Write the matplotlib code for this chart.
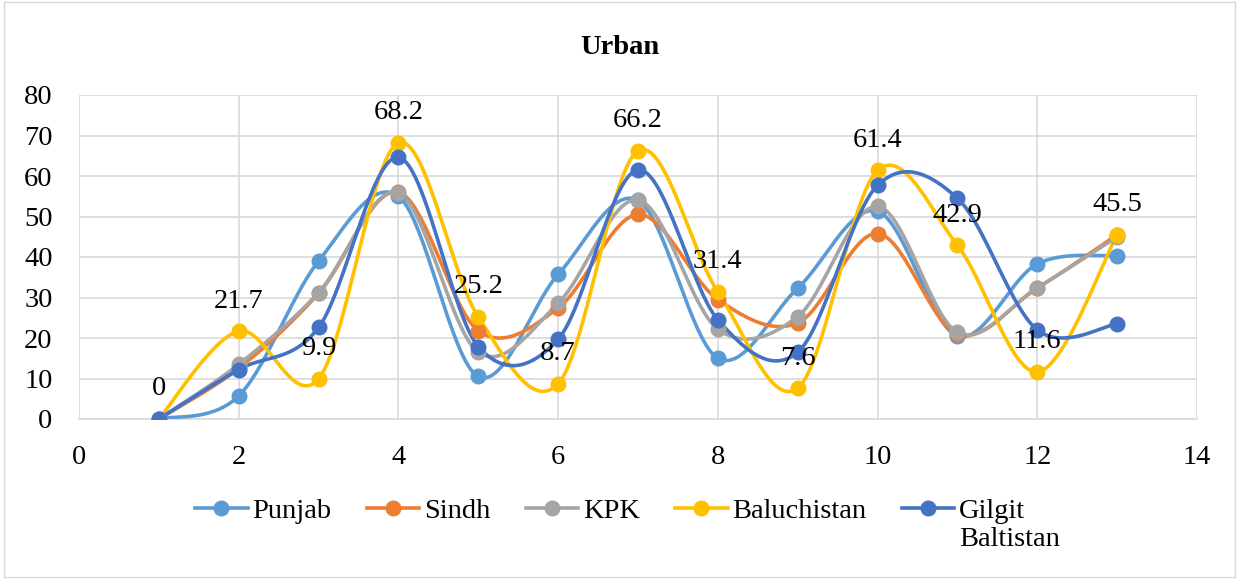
import numpy as np
import matplotlib
matplotlib.use("Agg")
import matplotlib.pyplot as plt
from matplotlib.lines import Line2D

x = [1, 2, 3, 4, 5, 6, 7, 8, 9, 10, 11, 12, 13]
punjab = [0, 5.7, 39.0, 55.0, 10.5, 35.7, 54.0, 15.0, 32.3, 51.3, 20.5, 38.3, 40.3]
sindh = [0, 12.5, 31.0, 56.0, 21.8, 27.4, 50.5, 29.5, 23.7, 45.8, 21.0, 32.3, 45.5]
kpk = [0, 13.5, 31.2, 55.8, 16.5, 28.6, 54.1, 22.2, 25.3, 52.5, 21.4, 32.4, 45.0]
baluchistan = [0, 21.7, 9.9, 68.2, 25.2, 8.7, 66.2, 31.4, 7.6, 61.4, 42.9, 11.6, 45.5]
gilgit = [0, 12.2, 22.6, 64.6, 17.9, 19.7, 61.5, 24.5, 16.5, 57.7, 54.5, 22.0, 23.5]

names = ["Punjab", "Sindh", "KPK", "Baluchistan", "Gilgit"]
extra_line = "Baltistan"
colors = ["#5B9BD5", "#ED7D31", "#A5A5A5", "#FFC000", "#4472C4"]
series = [punjab, sindh, kpk, baluchistan, gilgit]

plt.rcParams['font.family'] = ['Liberation Serif', 'DejaVu Serif']
FS = 20.5


def smooth(xs, ys, n=40):
    P = np.column_stack([xs, ys]).astype(float)
    ext = np.vstack([P[0], P, P[-1]])
    out = []
    t = np.linspace(0, 1, n)[:, None]
    for i in range(len(P) - 1):
        p0, p3 = ext[i + 1], ext[i + 2]
        c1 = p0 + (ext[i + 2] - ext[i]) / 6.0
        c2 = p3 - (ext[i + 3] - ext[i + 1]) / 6.0
        seg = ((1 - t) ** 3) * p0 + 3 * ((1 - t) ** 2) * t * c1 + 3 * (1 - t) * t ** 2 * c2 + t ** 3 * p3
        out.append(seg if i == 0 else seg[1:])
    c = np.vstack(out)
    return c[:, 0], c[:, 1]


fig = plt.figure(figsize=(12.39, 5.79), dpi=100)
ax = fig.add_axes([79 / 1239, 1 - 419 / 579, (1197 - 79) / 1239, (419 - 95) / 579])

for ys, c in zip(series, colors):
    sx, sy = smooth(x, ys)
    ax.plot(sx, sy, color=c, lw=2.6, zorder=3, solid_capstyle='round')
    ax.plot(x, ys, 'o', color=c, ms=10.5, zorder=4)

for xi, yi in zip(x, baluchistan):
    lbl = "0" if yi == 0 else f"{yi}"
    ax.annotate(lbl, (xi, yi), xytext=(0, 17), textcoords='offset points',
                ha='center', va='baseline', fontsize=FS, zorder=6)

ax.set_xlim(0, 14)
ax.set_ylim(0, 80)
ax.set_xticks(range(0, 15, 2))
ax.set_yticks(range(0, 81, 10))
ax.grid(True, color='#D9D9D9', lw=1.2, zorder=0)
ax.set_axisbelow(True)
for s in ['top', 'right', 'left']:
    ax.spines[s].set_visible(False)
ax.spines['bottom'].set_color('#D9D9D9')
ax.spines['bottom'].set_linewidth(1.2)
ax.tick_params(axis='x', length=0, labelsize=FS, pad=19)
ax.tick_params(axis='y', length=0, labelsize=FS, pad=19)

fig.text(0.5, 1 - 48 / 579, "Urban", ha='center', va='center', fontsize=FS, fontweight='bold')

handles = [Line2D([0], [0], color=c, lw=2.6, marker='o', ms=10.5) for c in colors]
leg = fig.legend(handles, names, loc='center left', bbox_to_anchor=(195 / 1239, 1 - 511 / 579),
                 ncol=5, frameon=False, fontsize=FS, handlelength=1.85, handletextpad=0.17,
                 columnspacing=1.23, borderpad=0, borderaxespad=0)

fig.canvas.draw()
gt = leg.get_texts()[-1]
bb = gt.get_window_extent()
x0, y0 = fig.transFigure.inverted().transform((bb.x0, bb.y0))
fig.text(x0, y0 - 0.006, extra_line, ha='left', va='top', fontsize=FS)

fig.patches.append(plt.Rectangle((0.003, 0.003), 0.994, 0.994, transform=fig.transFigure,
                                 fill=False, edgecolor='#D9D9D9', lw=1))

fig.savefig("out.png", dpi=100)
